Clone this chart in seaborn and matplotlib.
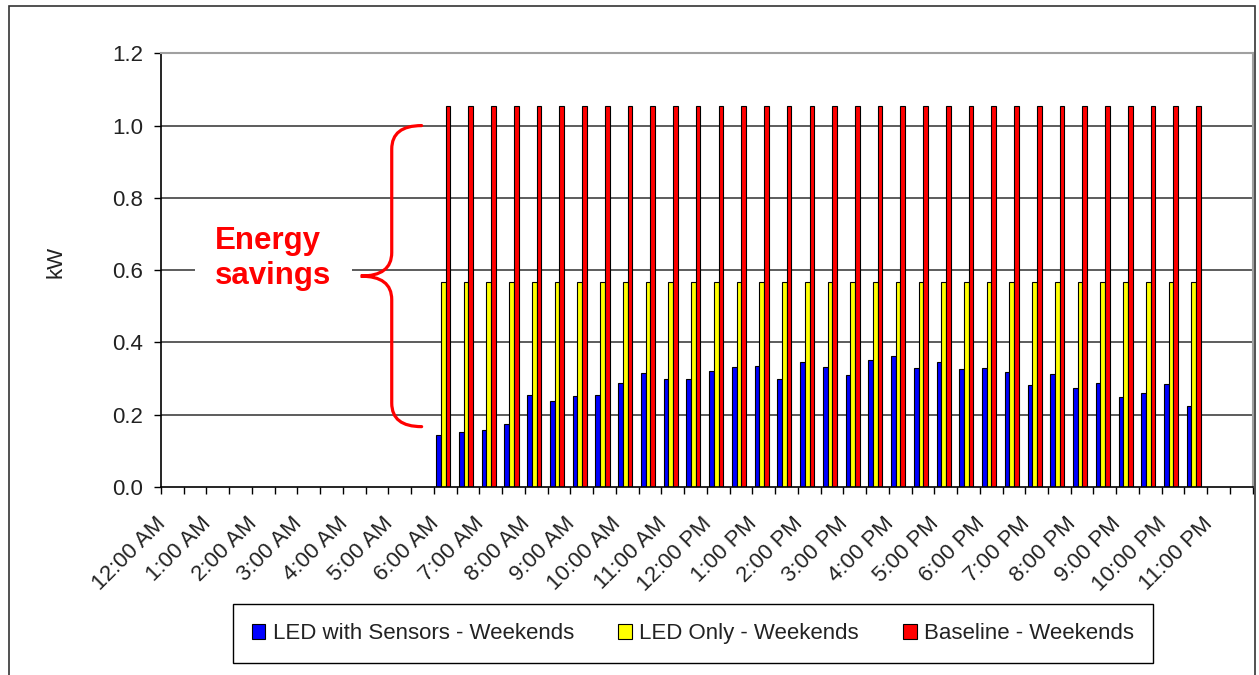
import numpy as np
import pandas as pd
import matplotlib
matplotlib.use("Agg")
import matplotlib.pyplot as plt
import seaborn as sns
from matplotlib.path import Path
from matplotlib.patches import PathPatch, Patch, Rectangle

# half-hour slots over the day
slots = ["12:00 AM", "12:30 AM", "1:00 AM", "1:30 AM", "2:00 AM", "2:30 AM",
         "3:00 AM", "3:30 AM", "4:00 AM", "4:30 AM", "5:00 AM", "5:30 AM",
         "6:00 AM", "6:30 AM", "7:00 AM", "7:30 AM", "8:00 AM", "8:30 AM",
         "9:00 AM", "9:30 AM", "10:00 AM", "10:30 AM", "11:00 AM", "11:30 AM",
         "12:00 PM", "12:30 PM", "1:00 PM", "1:30 PM", "2:00 PM", "2:30 PM",
         "3:00 PM", "3:30 PM", "4:00 PM", "4:30 PM", "5:00 PM", "5:30 PM",
         "6:00 PM", "6:30 PM", "7:00 PM", "7:30 PM", "8:00 PM", "8:30 PM",
         "9:00 PM", "9:30 PM", "10:00 PM", "10:30 PM", "11:00 PM", "11:30 PM"]
tick_labels = slots[::2]

# slots with data: 6:00 AM .. 10:30 PM
active_slots = slots[12:46]

sensors_kw = [0.145, 0.153, 0.157, 0.174, 0.255, 0.239, 0.252, 0.255, 0.287, 0.315,
              0.299, 0.299, 0.322, 0.331, 0.336, 0.299, 0.347, 0.331, 0.311, 0.351,
              0.363, 0.330, 0.346, 0.327, 0.330, 0.318, 0.281, 0.314, 0.273, 0.289,
              0.248, 0.261, 0.286, 0.224]
led_only_kw = [0.568, 0.568, 0.568, 0.568, 0.568, 0.568, 0.568, 0.568, 0.568, 0.568,
               0.568, 0.568, 0.568, 0.568, 0.568, 0.568, 0.568, 0.568, 0.568, 0.568,
               0.568, 0.568, 0.568, 0.568, 0.568, 0.568, 0.568, 0.568, 0.568, 0.568,
               0.568, 0.568, 0.568, 0.568]
baseline_kw = [1.055, 1.055, 1.055, 1.055, 1.055, 1.055, 1.055, 1.055, 1.055, 1.055,
               1.055, 1.055, 1.055, 1.055, 1.055, 1.055, 1.055, 1.055, 1.055, 1.055,
               1.055, 1.055, 1.055, 1.055, 1.055, 1.055, 1.055, 1.055, 1.055, 1.055,
               1.055, 1.055, 1.055, 1.055]

series_names = ["LED with Sensors - Weekends", "LED Only - Weekends", "Baseline - Weekends"]
series_colors = ["#0000FF", "#FFFF00", "#FF0000"]
y_ticks = [0.0, 0.2, 0.4, 0.6, 0.8, 1.0, 1.2]

# brace spans from baseline level down to sensors level
brace_top = 1.0
brace_bottom = 0.167

df = pd.concat([
    pd.DataFrame({"Time": active_slots, "kW": vals, "Series": name})
    for name, vals in zip(series_names, [sensors_kw, led_only_kw, baseline_kw])
], ignore_index=True)

sns.set_style("white")
plt.rcParams["font.family"] = ["Liberation Sans", "DejaVu Sans"]
text_col = "#222222"
fs = 16

W, H = 1259, 675
fig = plt.figure(figsize=(W / 100, H / 100), dpi=100)
ax = fig.add_axes([161 / W, 1 - 487 / H, (1252.7 - 161) / W, (487 - 53.3) / H])

sns.barplot(data=df, x="Time", y="kW", hue="Series", order=slots, hue_order=series_names,
            palette=series_colors, saturation=1, width=0.62, errorbar=None,
            edgecolor="black", linewidth=0.8, legend=False, ax=ax)

shift = 0.09
ax.set_xlim(-0.5 + shift, len(slots) - 0.5 + shift)
ax.set_ylim(0, 1.2)

# gridlines between the bottom axis and the top frame
for v in y_ticks[1:-1]:
    ax.axhline(v, color="#303030", lw=1.1, zorder=0.5)

ax.set_yticks(y_ticks)
ax.set_yticklabels([f"{v:.1f}" for v in y_ticks])
ax.set_xticks(np.arange(0, len(slots), 2) - 0.33)
ax.set_xticklabels(tick_labels, rotation=45, ha="right", va="center", rotation_mode="anchor")
ax.set_xticks(np.arange(len(slots) + 1) - 0.5 + shift, minor=True)

ax.tick_params(axis="x", which="major", bottom=True, length=0, pad=24,
               labelsize=fs, labelcolor=text_col)
ax.tick_params(axis="x", which="minor", bottom=True, length=5, width=1, color="black",
               direction="out")
ax.tick_params(axis="y", left=True, length=5, width=1, color="black", direction="out",
               pad=8, labelsize=fs, labelcolor=text_col)

ax.set_xlabel("")
ax.set_ylabel("kW", fontsize=fs, color=text_col)
ax.yaxis.set_label_coords(-0.087, 0.52)

for side in ["left", "bottom"]:
    ax.spines[side].set_color("black")
    ax.spines[side].set_linewidth(1.2)
for side in ["top", "right"]:
    ax.spines[side].set_color("#a0a0a0")
    ax.spines[side].set_linewidth(1.5)

ax.text(1.965, 0.632, "Energy\nsavings", color="#FF0000", fontsize=22.5, fontweight="bold",
        ha="left", va="center", zorder=3,
        bbox=dict(boxstyle="square,pad=0.65", fc="white", ec="none"))

# curly brace
x_end, x_stem, x_tip = 11.05, 9.735, 8.37
y_mid = (brace_top + brace_bottom) / 2
r = 0.065
verts = [(x_end, brace_top), (x_stem, brace_top), (x_stem, brace_top - r),
         (x_stem, y_mid + r),
         (x_stem, y_mid), (x_tip, y_mid),
         (x_stem, y_mid), (x_stem, y_mid - r),
         (x_stem, brace_bottom + r),
         (x_stem, brace_bottom), (x_end, brace_bottom)]
codes = [Path.MOVETO, Path.CURVE3, Path.CURVE3,
         Path.LINETO,
         Path.CURVE3, Path.CURVE3,
         Path.CURVE3, Path.CURVE3,
         Path.LINETO,
         Path.CURVE3, Path.CURVE3]
ax.add_patch(PathPatch(Path(verts, codes), fc="none", ec="#FF0000", lw=2.3,
                       zorder=4, clip_on=False, capstyle="round"))

handles = [Patch(facecolor=c, edgecolor="black", linewidth=0.8, label=n)
           for n, c in zip(series_names, series_colors)]
leg = fig.legend(handles=handles, loc="center", bbox_to_anchor=(693 / W, 1 - 633.8 / H),
                 ncol=3, fontsize=fs, handlelength=0.6, handleheight=0.6,
                 handletextpad=0.33, columnspacing=2.0, borderpad=0.85,
                 fancybox=False, frameon=True, edgecolor="black", framealpha=1)
leg.get_frame().set_linewidth(1.0)
for t in leg.get_texts():
    t.set_color(text_col)

fig.patches.append(Rectangle((9 / W, -0.02), (1255 - 9) / W, 1 - 6 / H + 0.02,
                             transform=fig.transFigure, fill=False, ec="#333333",
                             lw=1.2, zorder=0))

fig.savefig("out.png", dpi=100)
